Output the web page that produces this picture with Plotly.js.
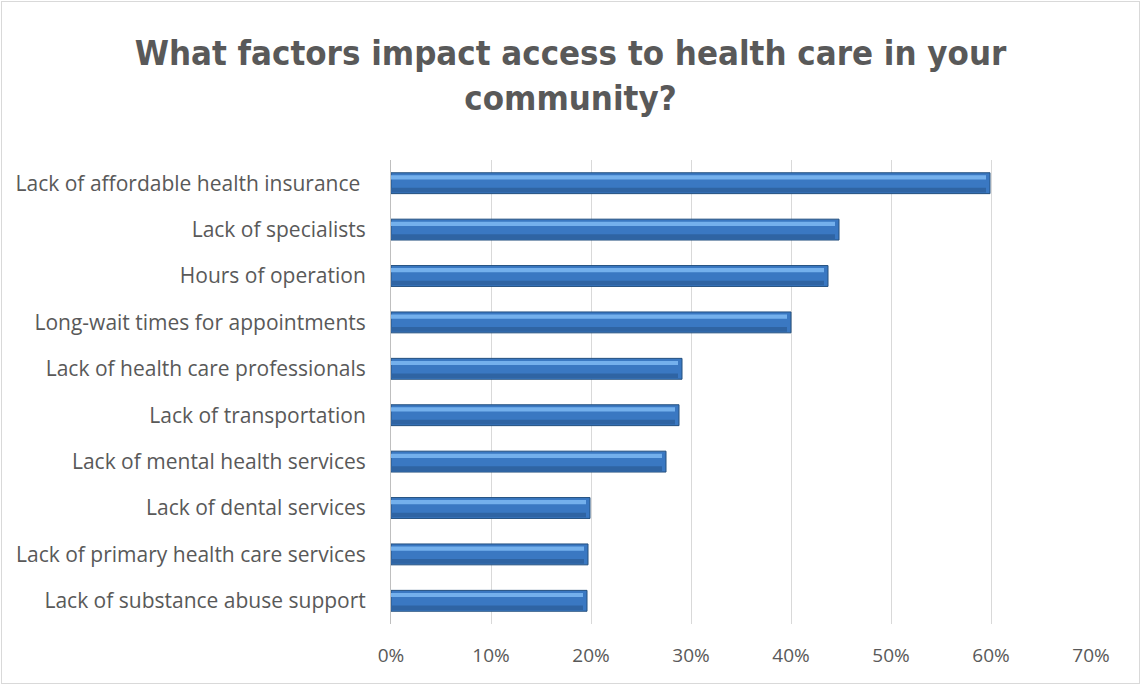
<!DOCTYPE html>
<html>
<head>
<meta charset="utf-8">
<script src="https://cdn.plot.ly/plotly-3.0.1.min.js"></script>
<style>
  html, body { margin: 0; padding: 0; background: #fff; }
  #wrap { position: relative; width: 1141px; height: 685px; }
  #chart { position: absolute; left: 0; top: 0; width: 1141px; height: 685px; }
  #frame { position: absolute; left: 1px; top: 1px; width: 1137px; height: 681px; border: 1px solid #d9d9d9; pointer-events: none; }
</style>
</head>
<body>
<div id="wrap"><div id="chart"></div><div id="frame"></div></div>
<script>
const categories = [
  "Lack of affordable health insurance ",
  "Lack of specialists",
  "Hours of operation",
  "Long-wait times for appointments",
  "Lack of health care professionals",
  "Lack of transportation",
  "Lack of mental health services",
  "Lack of dental services",
  "Lack of primary health care services",
  "Lack of substance abuse support"
];
const values = [0.599, 0.448, 0.437, 0.400, 0.291, 0.288, 0.275, 0.199, 0.197, 0.196];
const tickVals = [0, 0.1, 0.2, 0.3, 0.4, 0.5, 0.6, 0.7];
const tickText = ["0%", "10%", "20%", "30%", "40%", "50%", "60%", "70%"];
const titleText = "What factors impact access to health care in your<br>community?";

const font = "'Open Sans', 'Noto Sans', sans-serif";
const titleFont = "'DejaVu Sans Condensed', 'Open Sans', sans-serif";

const mainBar = {
  type: "bar", orientation: "h",
  x: values, y: categories,
  width: 0.45,
  marker: { color: "#3a78c2", line: { color: "#24507f", width: 1 } },
  hoverinfo: "x+y"
};
const highlight = {
  type: "bar", orientation: "h",
  x: values.map(v => v - 0.004), y: categories,
  width: 0.09, offset: -0.17,
  marker: { color: "#74b0ec", line: { width: 0 } },
  hoverinfo: "skip"
};
const shade = {
  type: "bar", orientation: "h",
  x: values.map(v => v - 0.004), y: categories,
  width: 0.1, offset: 0.1,
  marker: { color: "#2f64a3", line: { width: 0 } },
  hoverinfo: "skip"
};

const layout = {
  width: 1141, height: 685,
  margin: { l: 391, r: 50, t: 160, b: 61 },
  paper_bgcolor: "#ffffff", plot_bgcolor: "#ffffff",
  showlegend: false,
  barmode: "overlay",
  font: { family: font, color: "#595959", size: 19 },
  title: {
    text: titleText,
    font: { family: titleFont, size: 34.5, color: "#595959", weight: "bold" },
    x: 0.5, xanchor: "center", xref: "container",
    y: 0.905, yanchor: "middle", yref: "container"
  },
  xaxis: {
    range: [0, 0.7],
    tickvals: tickVals, ticktext: tickText,
    showgrid: true, gridcolor: "#d9d9d9", gridwidth: 1,
    zeroline: false, showline: false,
    ticks: "", ticklabelstandoff: 18,
    tickfont: { family: font, size: 19, color: "#595959" },
    fixedrange: true
  },
  yaxis: {
    type: "category", autorange: "reversed",
    showgrid: false, zeroline: false,
    showline: true, linecolor: "#bfbfbf", linewidth: 1,
    ticks: "", ticklabelstandoff: 20,
    tickfont: { family: font, size: 21, color: "#595959" },
    fixedrange: true
  }
};

Plotly.newPlot("chart", [mainBar, shade, highlight], layout, { displayModeBar: false, staticPlot: true });
</script>
</body>
</html>
